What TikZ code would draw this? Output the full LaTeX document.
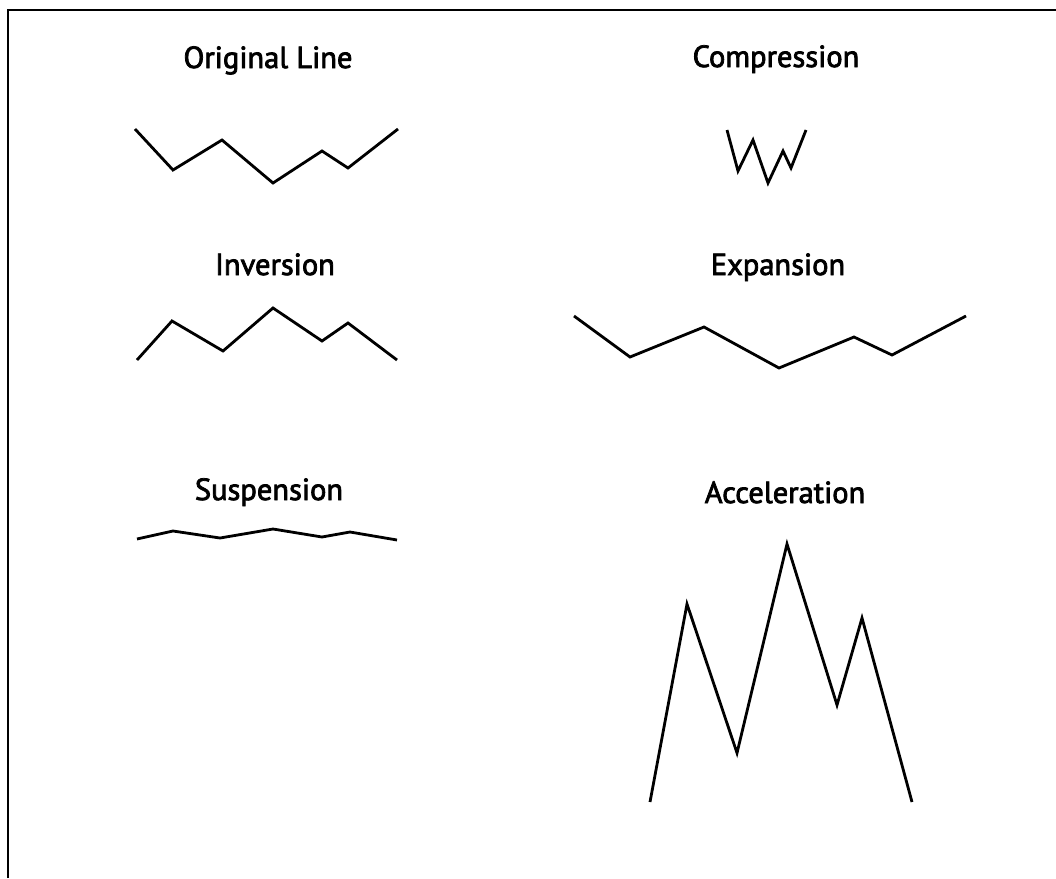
\documentclass[tikz,border=0pt]{standalone}
\usepackage{fontspec}
\setmainfont{PT Sans}
\newfontfamily\titlefont[FakeBold=2.5]{PT Sans}
\begin{document}
\begin{tikzpicture}[x=1pt,y=-1pt,
  zig/.style={line width=2.8pt,line join=miter,black},
  frameline/.style={line width=2.6pt,black},
  title/.style={anchor=base,inner sep=0pt,font=\titlefont\fontsize{30.5}{35}\selectfont}]
\useasboundingbox (0,0) rectangle (1056,878);
\fill[white] (0,0) rectangle (1056,878);
\draw[frameline] (8,878) -- (8,10) -- (1056,10);
% titles
\node[title] (t1) at (268,68) {Original Line};
\node[title] (t2) at (776,67) {Compression};
\node[title] (t3) at (275,275) {Inversion};
\node[title] (t4) at (778,275) {Expansion};
\node[title] (t5) at (269,500) {Suspension};
\node[title] (t6) at (785,503) {Acceleration};
% lines
\draw[zig] (135,129) -- (173,170) -- (222,140) -- (273,183) -- (322,151) -- (348,168) -- (398,129);
\draw[zig] (727,130) -- (738,171) -- (753,140) -- (768,183) -- (783,151) -- (791,168) -- (806,130);
\draw[zig] (137,360) -- (172,321) -- (223,351) -- (273,308) -- (322,341) -- (348,323) -- (397,360);
\draw[zig] (574,316) -- (630,357) -- (704,327) -- (779,368) -- (854,337) -- (892,355) -- (966,316);
\draw[zig] (137,539) -- (173,531) -- (220,538) -- (273,529) -- (322,537) -- (350,532) -- (397,540);
\draw[zig] (650,802) -- (687,604) -- (737,753) -- (787,544) -- (837,705) -- (862,618) -- (912,802);
\end{tikzpicture}
\end{document}
